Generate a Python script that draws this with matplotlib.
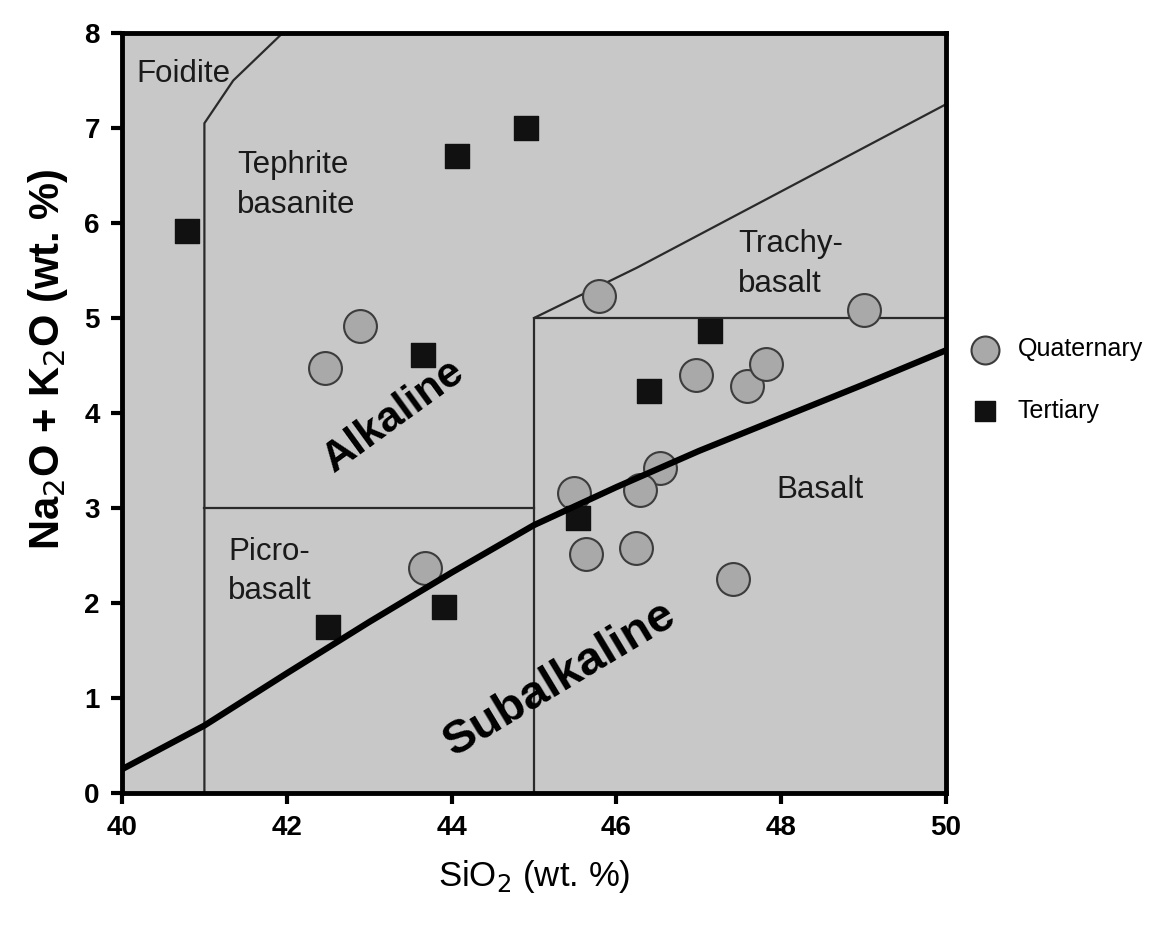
import matplotlib.pyplot as plt

plt.rcParams['font.family'] = ['Liberation Sans', 'DejaVu Sans']

# sample compositions (SiO2, Na2O+K2O in wt. %)
quat_sio2 = [42.46, 42.89, 45.79, 49.01, 46.96, 47.59, 47.82, 46.53, 46.29,
             45.49, 45.63, 46.24, 47.41, 43.68]
quat_alk = [4.47, 4.92, 5.23, 5.08, 4.40, 4.28, 4.52, 3.42, 3.19,
            3.16, 2.52, 2.58, 2.25, 2.37]
tert_sio2 = [40.79, 44.07, 44.90, 43.65, 46.40, 47.14, 45.53, 42.50, 43.91]
tert_alk = [5.92, 6.71, 7.00, 4.61, 4.23, 4.86, 2.89, 1.75, 1.96]

# alkaline / subalkaline divide
div_sio2 = [40, 41, 42, 43, 44, 45, 46, 47, 48, 49, 50]
div_alk = [0.25, 0.71, 1.26, 1.80, 2.32, 2.82, 3.22, 3.60, 3.95, 4.30, 4.66]

# field boundaries
foid_sio2 = [41, 41, 41.35, 41.95]
foid_alk = [0, 7.05, 7.5, 8]
picro_sio2 = [41, 45]
picro_alk = [3, 3]
basalt_sio2 = [45, 45, 50]
basalt_alk = [0, 5, 5]
trachy_sio2 = [45, 46.25, 50]
trachy_alk = [5, 5.53, 7.25]

field_labels = [
    (40.18, 7.57, 'Foidite'),
    (41.40, 6.40, 'Tephrite\nbasanite'),
    (47.48, 5.57, 'Trachy-\nbasalt'),
    (47.94, 3.19, 'Basalt'),
    (41.29, 2.33, 'Picro-\nbasalt'),
]

fig = plt.figure(figsize=(11.49, 9.40), dpi=100)
ax = fig.add_axes([122 / 1149, (940 - 793) / 940, 824 / 1149, 760 / 940])
ax.set_facecolor('#c8c8c8')

line_kw = dict(color='#2a2a2a', lw=1.6, zorder=2)
ax.plot(foid_sio2, foid_alk, **line_kw)
ax.plot(picro_sio2, picro_alk, **line_kw)
ax.plot(basalt_sio2, basalt_alk, **line_kw)
ax.plot(trachy_sio2, trachy_alk, **line_kw)
ax.plot(div_sio2, div_alk, color='black', lw=4.5, zorder=4,
        solid_capstyle='butt')

ax.scatter(quat_sio2, quat_alk, s=560, marker='o', facecolor='#a9a9a9',
           edgecolor='#3c3c3c', linewidth=1.5, zorder=3, label='Quaternary')
ax.scatter(tert_sio2, tert_alk, s=290, marker='s', facecolor='#111111',
           edgecolor='#111111', linewidth=1, zorder=3, label='Tertiary')

for x, y, txt in field_labels:
    ax.text(x, y, txt, fontsize=22.5, color='#1a1a1a', ha='left', va='center',
            linespacing=1.42)

ax.text(43.3, 3.97, 'Alkaline', fontsize=31, fontweight='bold',
        rotation=36, ha='center', va='center')
ax.text(45.32, 1.2, 'Subalkaline', fontsize=34, fontweight='bold',
        rotation=31, ha='center', va='center')

ax.set_xlim(40, 50)
ax.set_ylim(0, 8)
ax.set_xticks([40, 42, 44, 46, 48, 50])
ax.set_yticks(range(0, 9))
ax.tick_params(direction='out', length=8, width=3, labelsize=20, pad=8)
for lab in ax.get_xticklabels() + ax.get_yticklabels():
    lab.set_fontweight('bold')
for sp in ax.spines.values():
    sp.set_linewidth(3.5)

ax.set_xlabel('SiO$_2$ (wt. %)', fontsize=25, labelpad=12)
ax.set_ylabel('Na$_2$O + K$_2$O (wt. %)', fontsize=30, fontweight='bold')
ax.yaxis.set_label_coords(-0.063, 0.57)

leg = ax.legend(loc='upper left', bbox_to_anchor=(1.005, 0.613), frameon=False,
                fontsize=18, handletextpad=0.3, labelspacing=1.5,
                markerscale=0.85, borderaxespad=0)

fig.savefig('out.png', dpi=100, facecolor='white')
